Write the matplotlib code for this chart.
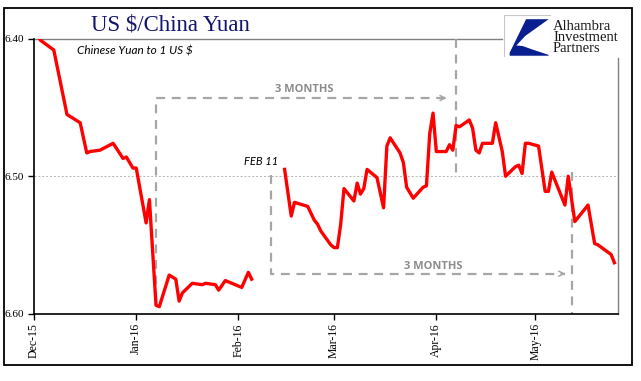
import datetime as dt

import matplotlib
matplotlib.use("Agg")
import matplotlib.pyplot as plt
import matplotlib.dates as mdates
from matplotlib.patches import Rectangle, Polygon

# -----------------------------
# data
# -----------------------------
seg1_dates = [
    "2015-12-01", "2015-12-03", "2015-12-07", "2015-12-11", "2015-12-15",
    "2015-12-17", "2015-12-18", "2015-12-21", "2015-12-25", "2015-12-28",
    "2015-12-29", "2015-12-31", "2016-01-01", "2016-01-04", "2016-01-05",
    "2016-01-07", "2016-01-08", "2016-01-11", "2016-01-13", "2016-01-14",
    "2016-01-15", "2016-01-18", "2016-01-21", "2016-01-22", "2016-01-25",
    "2016-01-26", "2016-01-28", "2016-02-02", "2016-02-04", "2016-02-05",
]
seg1_vals = [
    6.394, 6.401, 6.408, 6.455, 6.461,
    6.483, 6.482, 6.481, 6.476, 6.487,
    6.486, 6.494, 6.494, 6.534, 6.517,
    6.594, 6.595, 6.572, 6.575, 6.591,
    6.585, 6.578, 6.579, 6.578, 6.579,
    6.583, 6.576, 6.581, 6.570, 6.575,
]

seg2_dates = [
    "2016-02-15", "2016-02-17", "2016-02-18", "2016-02-22", "2016-02-24",
    "2016-02-25", "2016-02-26", "2016-02-29", "2016-03-01", "2016-03-02",
    "2016-03-03", "2016-03-04", "2016-03-07", "2016-03-08", "2016-03-09",
    "2016-03-10", "2016-03-11", "2016-03-14", "2016-03-16", "2016-03-17",
    "2016-03-18", "2016-03-21", "2016-03-22", "2016-03-23", "2016-03-25",
    "2016-03-28", "2016-03-29", "2016-03-30", "2016-03-31", "2016-04-01",
    "2016-04-04", "2016-04-05", "2016-04-06", "2016-04-07", "2016-04-08",
    "2016-04-11", "2016-04-12", "2016-04-13", "2016-04-14", "2016-04-15",
    "2016-04-18", "2016-04-19", "2016-04-21", "2016-04-22", "2016-04-25",
    "2016-04-26", "2016-04-27", "2016-04-28", "2016-04-29", "2016-05-02",
    "2016-05-04", "2016-05-05", "2016-05-06", "2016-05-10", "2016-05-11",
    "2016-05-13", "2016-05-17", "2016-05-19", "2016-05-20", "2016-05-24",
    "2016-05-25",
]
seg2_vals = [
    6.495, 6.529, 6.519, 6.522, 6.532,
    6.535, 6.540, 6.550, 6.552, 6.552,
    6.535, 6.509, 6.518, 6.505, 6.513,
    6.509, 6.495, 6.501, 6.523, 6.478,
    6.472, 6.483, 6.490, 6.508, 6.516,
    6.508, 6.507, 6.469, 6.454, 6.482,
    6.482, 6.477, 6.481, 6.463, 6.464,
    6.459, 6.465, 6.481, 6.483, 6.476,
    6.476, 6.461, 6.482, 6.500, 6.493,
    6.492, 6.498, 6.476, 6.476, 6.478,
    6.511, 6.511, 6.497, 6.521, 6.500,
    6.533, 6.521, 6.549, 6.550, 6.557,
    6.563,
]

y_ticks = [6.40, 6.50, 6.60]
x_ticks = ["2015-12-01", "2016-01-01", "2016-02-01", "2016-03-01", "2016-04-01", "2016-05-01"]
x_range = ("2015-12-01", "2016-05-26")


def d(s):
    return dt.datetime.strptime(s, "%Y-%m-%d")


RED = "#ff0000"
GREY = "#a6a6a6"
SERIF = "Liberation Serif"

fig = plt.figure(figsize=(6.41, 3.81), dpi=100)
ax = fig.add_axes([34 / 641, 1 - 313.5 / 381, 583.7 / 641, 274.5 / 381])

ax.plot([d(s) for s in seg1_dates], seg1_vals, color=RED, lw=2.4, solid_joinstyle="round", zorder=3)
ax.plot([d(s) for s in seg2_dates], seg2_vals, color=RED, lw=2.4, solid_joinstyle="round", zorder=3)

ax.set_xlim(d(x_range[0]), d(x_range[1]))
ax.set_ylim(6.60, 6.40)
ax.set_yticks(y_ticks)
ax.set_yticklabels([f"{v:.2f}" for v in y_ticks], fontfamily=SERIF, fontsize=8)
ax.set_xticks([d(s) for s in x_ticks])
ax.xaxis.set_major_formatter(mdates.DateFormatter("%b-%y"))
plt.setp(ax.get_xticklabels(), rotation=90, fontfamily=SERIF, fontsize=8.5)
ax.tick_params(axis="both", direction="out", length=4, width=1, color="black", pad=3)

# 6.50 reference line
ax.axhline(6.50, color="#b4b4b4", lw=0.7, ls=(0, (2, 2)), zorder=1)

# frame: black left/bottom, grey partial top/right
for side in ("top", "right"):
    ax.spines[side].set_visible(False)
for side in ("left", "bottom"):
    ax.spines[side].set_color("black")
    ax.spines[side].set_linewidth(1.2)
ax.plot([0, (502 - 34) / 583.7], [1, 1], transform=ax.transAxes, color="#808080", lw=1, clip_on=False)
ax.plot([1, 1], [0, 1 - (58 - 39) / 274.5], transform=ax.transAxes, color="#808080", lw=1, clip_on=False)

# "3 months" brackets
dash = dict(color=GREY, lw=1.6, ls=(0, (4, 3)), zorder=2, clip_on=False)
ax.plot([d("2016-01-07"), d("2016-01-07"), d("2016-04-04")], [6.590, 6.443, 6.443], **dash)
ax.plot([d("2016-04-07"), d("2016-04-07")], [6.400, 6.499], **dash)
ax.plot([d("2016-02-11"), d("2016-02-11"), d("2016-05-10")], [6.499, 6.571, 6.571], **dash)
ax.plot([d("2016-05-12"), d("2016-05-12")], [6.497, 6.600], **dash)
arrow = dict(arrowstyle="->", color=GREY, lw=1.1, mutation_scale=9)
ax.annotate("", xy=(d("2016-04-05"), 6.443), xytext=(d("2016-04-02"), 6.443), arrowprops=arrow)
ax.annotate("", xy=(d("2016-05-11"), 6.571), xytext=(d("2016-05-08"), 6.571), arrowprops=arrow)

ax.text(d("2016-02-21"), 6.437, "3 MONTHS", color="#8c8c8c", fontsize=8, fontweight="bold",
        fontfamily="Open Sans", ha="center", va="center")
ax.text(d("2016-03-31"), 6.566, "3 MONTHS", color="#8c8c8c", fontsize=8, fontweight="bold",
        fontfamily="Open Sans", ha="center", va="center")
ax.text(d("2016-02-08"), 6.489, "FEB 11", color="black", fontsize=8, style="italic",
        fontfamily="Lato", ha="center", va="center")
ax.text(0.073, 0.955, "Chinese Yuan to 1 US $", transform=ax.transAxes, color="black",
        fontsize=8.5, style="italic", fontfamily="Lato", ha="left", va="center")

# title
fig.text(170 / 641, 1 - 25 / 381, "US $/China Yuan", color="#14146e", fontsize=16.5,
         fontfamily=SERIF, ha="center", va="center")

# logo
lax = fig.add_axes([504 / 641, 1 - 57 / 381, 47 / 641, 42 / 381])
lax.set_xlim(0, 1)
lax.set_ylim(0, 1)
lax.axis("off")
lax.add_patch(Rectangle((0.01, 0.01), 0.98, 0.98, fill=False, edgecolor="#c8c8c8", lw=0.8))
lax.add_patch(Polygon([(0.47, 0.9), (0.95, 0.9), (0.45, 0.5), (0.12, 0.1)], closed=True,
                      facecolor="#0a1f8f", edgecolor="none"))
lax.add_patch(Polygon([(0.12, 0.1), (0.22, 0.28), (0.4, 0.26), (0.6, 0.18), (0.95, 0.05),
                       (0.95, 0.03), (0.12, 0.03)], closed=True,
                      facecolor="#0a1f8f", edgecolor="none"))
fig.text(553 / 641, 1 - 37.5 / 381, "Alhambra\nInvestment\nPartners", fontsize=10.5,
         fontfamily=SERIF, color="#1a1a1a", ha="left", va="center", linespacing=0.85)

# outer border
fig.patches.append(Rectangle((4 / 641, 1 - 365 / 381), 628 / 641, 357 / 381, transform=fig.transFigure,
                             fill=False, edgecolor="black", lw=1.3))

fig.savefig("out.png", dpi=100)
